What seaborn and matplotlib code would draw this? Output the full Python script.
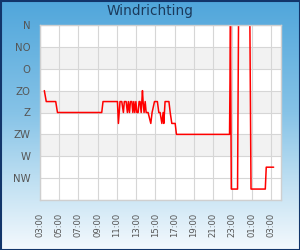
import numpy as np
import pandas as pd
import matplotlib
matplotlib.use("Agg")
import matplotlib.pyplot as plt
import matplotlib.colors as mcolors
from matplotlib.patches import Rectangle
import seaborn as sns

sns.set_style("white")
plt.rcParams['font.family'] = ['DejaVu Sans']

# ---- data ----
times = ["03:27", "03:39", "04:38", "04:49", "09:25", "09:33", "11:03", "11:09",
         "11:19", "11:30", "11:40", "11:46", "11:57", "12:05", "12:11", "12:18",
         "12:24", "12:33", "12:39", "12:45", "12:51", "12:58", "13:04", "13:12",
         "13:18", "13:24", "13:31", "13:39", "13:43", "13:49", "13:56", "14:02",
         "14:14", "14:31", "14:39", "14:54", "15:12", "15:21", "15:29", "15:40",
         "15:48", "15:52", "16:00", "16:13", "16:24", "16:32", "16:42", "17:03",
         "17:11", "22:42", "22:48", "22:53", "23:32", "23:38", "00:49", "00:56",
         "02:25", "02:31", "03:17"]
direction = [135, 157.5, 157.5, 180, 180, 157.5, 157.5, 202.5,
             157.5, 157.5, 180, 157.5, 157.5, 180, 157.5, 180,
             157.5, 157.5, 180, 157.5, 180, 157.5, 180, 180,
             157.5, 157.5, 180, 135, 157.5, 180, 157.5, 180,
             180, 202.5, 180, 157.5, 157.5, 180, 180, 202.5,
             180, 202.5, 157.5, 157.5, 157.5, 180, 202.5, 202.5,
             225, 225, 0, 337.5, 337.5, 0, 0, 337.5,
             337.5, 292.5, 292.5]
x_tick_labels = ["03:00", "05:00", "07:00", "09:00", "11:00", "13:00", "15:00",
                 "17:00", "19:00", "21:00", "23:00", "01:00", "03:00"]
y_tick_labels = ["N", "NO", "O", "ZO", "Z", "ZW", "W", "NW"]
y_tick_values = [0, 45, 90, 135, 180, 225, 270, 315]

# hours since 03:00 on the first day (times run on past midnight)
hours = []
day = 0
prev = None
for t in times:
    hh, mm = map(int, t.split(":"))
    clock = hh + mm / 60.0
    if prev is not None and clock < prev:
        day += 1
    prev = clock
    hours.append(clock + 24 * day - 3)
df = pd.DataFrame({"h": hours, "deg": direction})

W, H = 300, 250
fig = plt.figure(figsize=(W / 100, H / 100), dpi=100)

# gradient background
bg = fig.add_axes([0, 0, 1, 1], zorder=-10)
cmap = mcolors.LinearSegmentedColormap.from_list(
    "bg", [(0, "#50a6db"), (0.45, "#86c3e7"), (0.75, "#c4e2f3"), (1.0, "#f4f9fd")])
grad = np.linspace(0, 1, 256).reshape(-1, 1)
bg.imshow(grad, aspect="auto", cmap=cmap, extent=[0, 1, 0, 1], origin="upper")
bg.set_axis_off()

left, right, top, bottom = 40, 281, 25, 200
ax = fig.add_axes([left / W, 1 - bottom / H, (right - left) / W, (bottom - top) / H])
ax.set_facecolor("white")

# alternate bands
for lo in [45, 135, 225]:
    ax.axhspan(lo, lo + 45, color="#f2f2f2", zorder=0, lw=0)

sns.lineplot(data=df, x="h", y="deg", color="#ff0000", lw=1.1, ax=ax,
             zorder=3, sort=False, estimator=None)

ax.set_xlim(0, 25.05)
ax.set_ylim(360, 0)
ax.set_xticks(np.arange(0, 25, 2))
ax.set_xticklabels(x_tick_labels, rotation=90, fontsize=6.1, color="#555555")
ax.set_yticks(y_tick_values + [360])
ax.set_yticklabels(y_tick_labels + [""], fontsize=7.3, color="#555555")
ax.tick_params(axis="x", length=0, pad=9)
ax.tick_params(axis="y", length=0, pad=7)
ax.grid(True, color="#d6d6d6", lw=0.8, zorder=1)
ax.set_axisbelow(True)
ax.set_xlabel("")
ax.set_ylabel("")
for s in ax.spines.values():
    s.set_color("#cfcfcf")
    s.set_linewidth(1.0)
    s.set_zorder(4)

fig.text(0.5, 1 - 10.5 / H, "Windrichting", ha="center", va="center",
         color="#1b3a5c", fontsize=9.8)

fig.patches.append(Rectangle((0.5 / W, 0.5 / H), 1 - 1 / W, 1 - 1 / H,
                             transform=fig.transFigure, fill=False,
                             edgecolor="#12356a", lw=1.5, zorder=10))

fig.savefig("out.png", dpi=100)
